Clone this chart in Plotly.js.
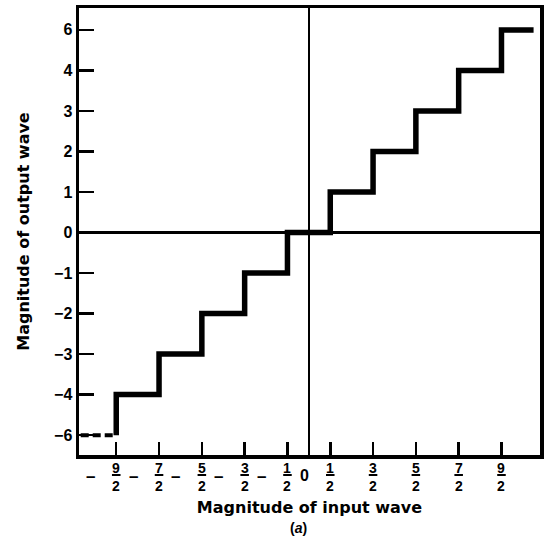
<!DOCTYPE html>
<html>
<head>
<meta charset="utf-8">
<script src="https://cdn.plot.ly/plotly-3.0.1.min.js"></script>
<style>html,body{margin:0;padding:0;background:#fff;}#chart{width:548px;height:557px;}</style>
</head>
<body>
<div id="chart"></div>
<script>
// Quantizer staircase: input magnitude (x) vs output magnitude (y)
const stepX = [-4.5, -4.5, -3.5, -2.5, -1.5, -0.5, 0.5, 1.5, 2.5, 3.5, 4.5, 5.25];
const stepY = [-5, -4, -3, -2, -1, 0, 1, 2, 3, 4, 5, 5];
const tailX = [-5.33, -4.5];
const tailY = [-5, -5];

const yTickVals = [-5, -4, -3, -2, -1, 0, 1, 2, 3, 4, 5];
const yTickText = ['\u22126', '\u22124', '\u22123', '\u22122', '\u22121', '0', '1', '2', '3', '4', '6'];

const xTickVals = [-4.5, -3.5, -2.5, -1.5, -0.5, 0.5, 1.5, 2.5, 3.5, 4.5];
const xTickNum  = ['9', '7', '5', '3', '1', '1', '3', '5', '7', '9'];
const xTickDen  = ['2', '2', '2', '2', '2', '2', '2', '2', '2', '2'];
const xTickSign = ['\u2013', '\u2013', '\u2013', '\u2013', '\u2013', '', '', '', '', ''];

const xTitle = 'Magnitude of input wave';
const yTitle = 'Magnitude of output wave';
const caption = '(<i>a</i>)';

const lblFont = {family: 'Liberation Sans, Arial, sans-serif', color: '#000', weight: 700};
const titleFont = {family: 'DejaVu Sans, sans-serif', size: 16, color: '#000', weight: 700};

const traces = [
  {x: tailX, y: tailY, mode: 'lines', line: {color: '#000', width: 4, dash: '8px,4px'}, hoverinfo: 'skip', showlegend: false},
  {x: stepX, y: stepY, mode: 'lines', line: {color: '#000', width: 5.5, shape: 'hv'}, hoverinfo: 'skip', showlegend: false}
];

const ann = [];
const shapes = [];
const FRAC_SHIFT = -21.5;
const BAR_Y = -0.0447;   // paper units, between numerator and denominator
const BAR_HALF = 0.1;    // x units
xTickVals.forEach((v, i) => {
  ann.push({x: v, xref: 'x', y: 0, yref: 'paper', yanchor: 'middle', yshift: FRAC_SHIFT,
    text: xTickNum[i] + '<br>' + xTickDen[i],
    showarrow: false, font: Object.assign({size: 14}, lblFont)});
  shapes.push({type: 'line', xref: 'x', yref: 'paper', x0: v - BAR_HALF, x1: v + BAR_HALF,
    y0: BAR_Y, y1: BAR_Y, line: {color: '#000', width: 2}});
  if (xTickSign[i]) {
    ann.push({x: v, xref: 'x', y: 0, yref: 'paper', yanchor: 'middle', yshift: FRAC_SHIFT, xshift: -26,
      text: xTickSign[i], showarrow: false, font: Object.assign({size: 17}, lblFont)});
  }
});
ann.push({x: 0, xref: 'x', y: 0, yref: 'paper', yanchor: 'middle', yshift: -20, xshift: -4,
  text: '0', showarrow: false, font: Object.assign({size: 16}, lblFont)});
ann.push({x: 0.477, xref: 'paper', y: 0, yref: 'paper', yanchor: 'middle', yshift: -73,
  text: caption, showarrow: false, font: Object.assign({size: 14}, lblFont)});

const layout = {
  width: 548, height: 557,
  margin: {l: 79, r: 8, t: 8, b: 102},
  paper_bgcolor: '#fff', plot_bgcolor: '#fff',
  showlegend: false,
  xaxis: {
    range: [-5.37, 5.40], showgrid: false,
    zeroline: true, zerolinecolor: '#000', zerolinewidth: 2.5,
    showline: true, mirror: true, linecolor: '#000', linewidth: 3.5,
    ticks: 'inside', ticklen: 13, tickwidth: 2.5, tickcolor: '#000',
    tickmode: 'array', tickvals: xTickVals, showticklabels: false,
    title: {text: xTitle, font: titleFont, standoff: 45}
  },
  yaxis: {
    range: [-5.49, 5.54], showgrid: false,
    zeroline: true, zerolinecolor: '#000', zerolinewidth: 2.5,
    showline: true, mirror: true, linecolor: '#000', linewidth: 3.5,
    ticks: 'inside', ticklen: 15, tickwidth: 2.5, tickcolor: '#000',
    tickmode: 'array', tickvals: yTickVals, ticktext: yTickText,
    tickfont: Object.assign({size: 16}, lblFont),
    title: {text: yTitle, font: titleFont, standoff: 21}
  },
  shapes: shapes,
  annotations: ann
};

Plotly.newPlot('chart', traces, layout, {staticPlot: true, displayModeBar: false});
</script>
</body>
</html>
